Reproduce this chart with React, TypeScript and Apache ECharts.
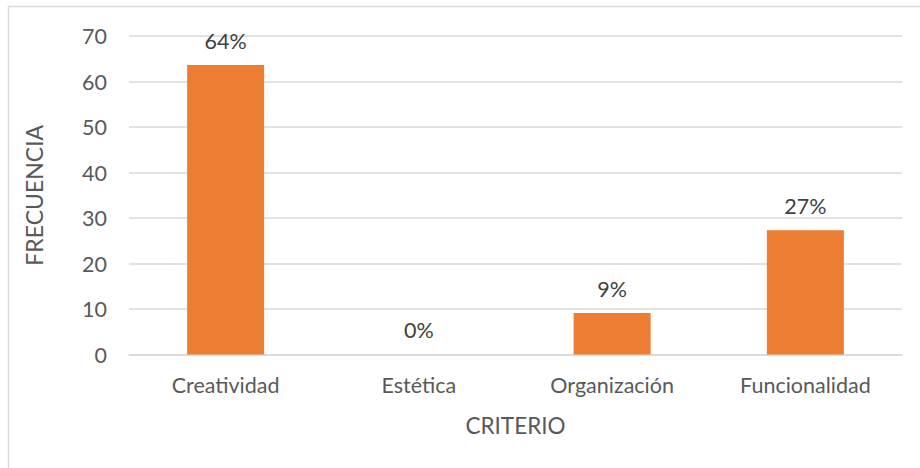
import React, { useEffect, useRef } from "react";
import * as echarts from "echarts";

const categories = ["Creatividad", "Estética", "Organización", "Funcionalidad"];
const frecuencia = [63.6, 0, 9.1, 27.3];
const percentLabels = ["64%", "0%", "9%", "27%"];
const yTicks = { min: 0, max: 70, interval: 10 };

export default function App() {
  const ref = useRef<HTMLDivElement>(null);
  useEffect(() => {
    if (!ref.current) return;
    const chart = echarts.init(ref.current, null, { renderer: "svg" });
    const font = "Lato, 'Open Sans', sans-serif";
    chart.setOption({
      animation: false,
      backgroundColor: "#ffffff",
      textStyle: { fontFamily: font },
      graphic: [
        {
          type: "rect",
          shape: { x: 8.5, y: 6.5, width: 930, height: 480 },
          style: { fill: "none", stroke: "#d9d9d9", lineWidth: 1.5 },
          silent: true,
        },
      ],
      grid: { left: 129, right: 18, top: 36, bottom: 113.5 },
      xAxis: {
        type: "category",
        data: categories,
        axisLine: { show: true, lineStyle: { color: "#d9d9d9", width: 1.5 } },
        axisTick: { show: false },
        axisLabel: { color: "#595959", fontSize: 21.5, margin: 19, fontFamily: font },
        name: "CRITERIO",
        nameLocation: "middle",
        nameGap: 59,
        nameTextStyle: { color: "#595959", fontSize: 22.5, fontFamily: font },
      },
      yAxis: {
        type: "value",
        min: yTicks.min,
        max: yTicks.max,
        interval: yTicks.interval,
        axisLine: { show: false },
        axisTick: { show: false },
        splitLine: { lineStyle: { color: "#d9d9d9", width: 1.5 } },
        axisLabel: { color: "#595959", fontSize: 21.5, margin: 22, fontFamily: font },
        name: "FRECUENCIA",
        nameLocation: "middle",
        nameGap: 84,
        nameTextStyle: { color: "#595959", fontSize: 23, fontFamily: font },
      },
      series: [
        {
          type: "bar",
          data: frecuencia,
          barWidth: 77,
          itemStyle: { color: "#ED7D31" },
          label: {
            show: true,
            position: "top",
            distance: 13.5,
            color: "#404040",
            fontSize: 21.5,
            fontFamily: font,
            formatter: (p: any) => percentLabels[p.dataIndex],
          },
        },
      ],
    });
    return () => chart.dispose();
  }, []);
  return (
    <div
      ref={ref}
      style={{ position: "absolute", left: 0, top: 0, width: 920, height: 468 }}
    />
  );
}
